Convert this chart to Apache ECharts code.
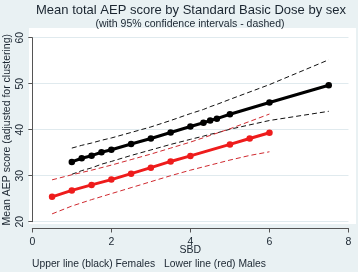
<!DOCTYPE html>
<html>
<head>
<meta charset="utf-8">
<script src="https://cdn.jsdelivr.net/npm/echarts@6/dist/echarts.min.js"></script>
<style>
  html, body { margin: 0; padding: 0; background: #e9f1f3; }
  #chart { width: 358px; height: 272px; }
</style>
</head>
<body>
<div id="chart"></div>
<script>
  // SBD values and estimates
  var femSBD   = [1, 1.25, 1.5, 1.75, 2, 2.5, 3, 3.5, 4, 4.33, 4.5, 4.67, 5, 6, 7.5];
  var femMean  = [33.0, 33.8, 34.35, 35.1, 35.65, 36.9, 38.1, 39.4, 40.7, 41.5, 42.0, 42.4, 43.35, 45.9, 49.65];
  var femUpper = [36.0, 36.6, 37.1, 37.7, 38.2, 39.4, 40.6, 42.0, 43.5, 44.4, 45.0, 45.5, 46.6, 49.8, 55.2];
  var femLower = [30.3, 31.1, 31.7, 32.5, 33.1, 34.4, 35.6, 36.8, 37.9, 38.6, 39.0, 39.3, 40.1, 42.0, 44.0];

  var maleSBD   = [0.5, 1, 1.5, 2, 2.5, 3, 3.5, 4, 5, 5.5, 6];
  var maleMean  = [25.4, 26.8, 28.0, 29.15, 30.45, 31.75, 33.1, 34.3, 36.8, 38.1, 39.35];
  var maleUpper = [29.1, 30.2, 31.2, 32.3, 33.5, 34.7, 36.0, 37.3, 40.2, 41.8, 43.4];
  var maleLower = [21.7, 23.4, 24.8, 26.1, 27.4, 28.7, 30.0, 31.2, 33.4, 34.4, 35.2];

  var xTicks = [0, 2, 4, 6, 8];
  var yTicks = [20, 30, 40, 50, 60];

  function pairs(xs, ys) {
    return xs.map(function (x, i) { return [x, ys[i]]; });
  }

  var font = 'Liberation Sans, Arial, sans-serif';
  var txt = '#1a2530';

  var myChart = echarts.init(document.getElementById('chart'));
  myChart.setOption({
    backgroundColor: '#e9f1f3',
    animation: false,
    graphic: [
      { type: 'rect', z: -10, shape: { x: 29, y: 28, width: 327, height: 196 }, style: { fill: '#ffffff' } },
      { type: 'text', x: 191, y: 10, style: { text: 'Mean total AEP score by Standard Basic Dose by sex', font: '13px ' + font, fill: txt, textAlign: 'center', textVerticalAlign: 'middle' } },
      { type: 'text', x: 190, y: 24, style: { text: '(with 95% confidence intervals - dashed)', font: '10.5px ' + font, fill: txt, textAlign: 'center', textVerticalAlign: 'middle' } },
      { type: 'text', x: 32, y: 264, style: { text: 'Upper line (black) Females', font: '10.3px ' + font, fill: txt, textVerticalAlign: 'middle' } },
      { type: 'text', x: 164, y: 264, style: { text: 'Lower line (red) Males', font: '10.3px ' + font, fill: txt, textVerticalAlign: 'middle' } }
    ],
    grid: { left: 32.3, right: 9.5, top: 37.7, bottom: 50.3, outerBoundsMode: 'none' },
    xAxis: {
      type: 'value', min: 0, max: 8, interval: 2, offset: 6.8,
      name: 'SBD', nameLocation: 'middle', nameGap: 16, nameMoveOverlap: false,
      nameTextStyle: { fontFamily: font, fontSize: 10.5, color: txt },
      axisLine: { lineStyle: { color: '#555', width: 1 } },
      axisTick: { length: 4, lineStyle: { color: '#555' } },
      axisLabel: { fontFamily: font, fontSize: 10.5, color: txt, margin: 8 },
      splitLine: { show: false },
      data: xTicks
    },
    yAxis: {
      type: 'value', min: 20, max: 60, interval: 10, offset: 4,
      name: 'Mean AEP score (adjusted for clustering)', nameLocation: 'middle', nameGap: 16, nameMoveOverlap: false,
      nameTextStyle: { fontFamily: font, fontSize: 10.5, color: txt },
      axisLine: { show: true, lineStyle: { color: '#555', width: 1 } },
      axisTick: { show: true, length: 4, lineStyle: { color: '#555' } },
      axisLabel: { fontFamily: font, fontSize: 10.5, color: txt, rotate: 90, margin: 3 },
      splitLine: { show: true, lineStyle: { color: '#e0eaee', width: 1 } }
    },
    series: [
      { type: 'line', data: pairs(femSBD, femUpper), symbol: 'none', lineStyle: { color: '#111', width: 1, type: [5, 3] } },
      { type: 'line', data: pairs(femSBD, femLower), symbol: 'none', lineStyle: { color: '#111', width: 1, type: [5, 3] } },
      { type: 'line', data: pairs(maleSBD, maleUpper), symbol: 'none', lineStyle: { color: '#d02a30', width: 1, type: [5, 3] } },
      { type: 'line', data: pairs(maleSBD, maleLower), symbol: 'none', lineStyle: { color: '#d02a30', width: 1, type: [5, 3] } },
      { type: 'line', data: pairs(femSBD, femMean), symbol: 'circle', symbolSize: 6.5, itemStyle: { color: '#000' }, lineStyle: { color: '#000', width: 3 } },
      { type: 'line', data: pairs(maleSBD, maleMean), symbol: 'circle', symbolSize: 6.5, itemStyle: { color: '#ee1c1c' }, lineStyle: { color: '#ee1c1c', width: 3 } }
    ]
  });
</script>
</body>
</html>
